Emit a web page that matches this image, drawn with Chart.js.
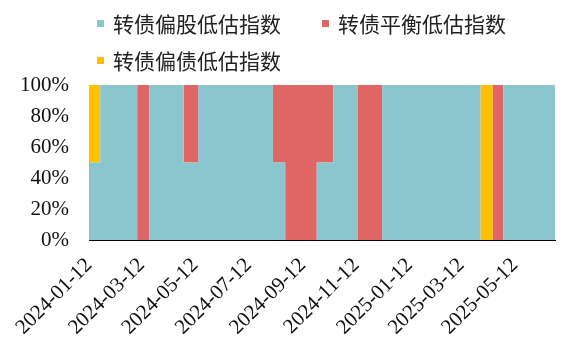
<!DOCTYPE html>
<html lang="zh">
  <head>
    <meta charset="utf-8">
    <title>转债低估指数</title>
    <script src="https://cdn.jsdelivr.net/npm/chart.js@4.4.1/dist/chart.umd.min.js"></script>
    <style>
      body { margin: 0; background: #fff; }
      #wrap { position: relative; width: 561px; height: 354px; }
      #legend {
        position: absolute; left: 97px; top: 5px; width: 460px;
        display: flex; flex-wrap: wrap;
        font-family: "Noto Sans CJK SC", sans-serif; font-size: 21px; color: #222;
      }
      #legend .item { display: flex; align-items: center; height: 37px; margin-right: 41px; }
      #legend .box { width: 7px; height: 7px; margin-right: 9px; }
      #legend .label { line-height: 37px; white-space: nowrap; }
    </style>
  </head>
  <body>
    <div id="wrap">
      <div id="legend"></div>
      <canvas id="chart" width="561" height="354"></canvas>
    </div>
    <script>
      // segment start dates; each share holds until the next date
      var seriesNames = ['转债偏股低估指数', '转债平衡低估指数', '转债偏债低估指数'];
      var seriesColors = ['#8BC6CE', '#E06666', '#FFC000'];
      var dates = ['2024-01-12', '2024-01-25', '2024-03-07', '2024-03-21', '2024-04-29',
                   '2024-05-16', '2024-08-09', '2024-08-23', '2024-09-28', '2024-10-17',
                   '2024-11-14', '2024-12-12', '2025-04-03', '2025-04-17', '2025-04-29',
                   '2025-06-27'];
      var equityShare   = [50, 100,   0, 100, 50, 100, 50,   0, 50, 100,   0, 100,   0,   0, 100, 100];
      var balancedShare = [ 0,   0, 100,   0, 50,   0, 50, 100, 50,   0, 100,   0,   0, 100,   0,   0];
      var debtShare     = [50,   0,   0,   0,  0,   0,  0,   0,  0,   0,   0,   0, 100,   0,   0,   0];
      var tickDates = ['2024-01-12', '2024-03-12', '2024-05-12', '2024-07-12', '2024-09-12',
                       '2024-11-12', '2025-01-12', '2025-03-12', '2025-05-12'];

      function day_offset(d) {
        return (Date.parse(d) - Date.parse(dates[0])) / 86400000;
      }

      function make_points(values) {
        return dates.map(function (d, i) { return {x: day_offset(d), y: values[i]}; });
      }

      var tickFont = {family: '"Liberation Serif", "Times New Roman", serif', size: 21};

      var htmlLegend = {
        id: 'htmlLegend',
        afterUpdate: function (chart) {
          var box = document.getElementById('legend');
          box.innerHTML = '';
          chart.data.datasets.forEach(function (ds) {
            var item = document.createElement('div');
            item.className = 'item';
            var sw = document.createElement('span');
            sw.className = 'box';
            sw.style.background = ds.backgroundColor;
            var txt = document.createElement('span');
            txt.className = 'label';
            txt.textContent = ds.label;
            item.appendChild(sw);
            item.appendChild(txt);
            box.appendChild(item);
          });
        }
      };

      var allShares = [equityShare, balancedShare, debtShare];
      var datasets = allShares.map(function (vals, i) {
        return {
          label: seriesNames[i],
          data: make_points(vals),
          backgroundColor: seriesColors[i],
          borderColor: seriesColors[i],
          borderWidth: 0,
          pointRadius: 0,
          // chart.js 'before' keeps the previous value until the next point
          stepped: 'before',
          fill: i === 0 ? 'origin' : '-1'
        };
      });

      var chart = new Chart(document.getElementById('chart'), {
        type: 'line',
        data: {datasets: datasets},
        plugins: [htmlLegend],
        options: {
          responsive: false,
          animation: false,
          layout: {padding: {top: 85, right: 6, left: 0, bottom: 0}},
          plugins: {legend: {display: false}, tooltip: {enabled: false}},
          scales: {
            x: {
              type: 'linear',
              min: 0,
              max: day_offset(dates[dates.length - 1]),
              z: 1,
              afterBuildTicks: function (scale) {
                scale.ticks = tickDates.map(function (d) { return {value: day_offset(d)}; });
              },
              afterFit: function (scale) { scale.height = 114; },
              grid: {drawOnChartArea: false, tickLength: -5, color: '#000'},
              border: {color: '#000', width: 1},
              ticks: {
                autoSkip: false, maxRotation: 45, minRotation: 45, padding: 18,
                font: tickFont, color: '#111',
                callback: function (v, i) { return tickDates[i]; }
              }
            },
            y: {
              stacked: true,
              min: 0,
              max: 100,
              z: 1,
              afterFit: function (scale) { scale.width = 89; },
              grid: {drawOnChartArea: false, tickLength: -5, color: '#000'},
              border: {color: '#000', width: 1},
              ticks: {
                stepSize: 20, padding: 25, font: tickFont, color: '#111',
                callback: function (v) { return v + '%'; }
              }
            }
          }
        }
      });
    </script>
  </body>
</html>
